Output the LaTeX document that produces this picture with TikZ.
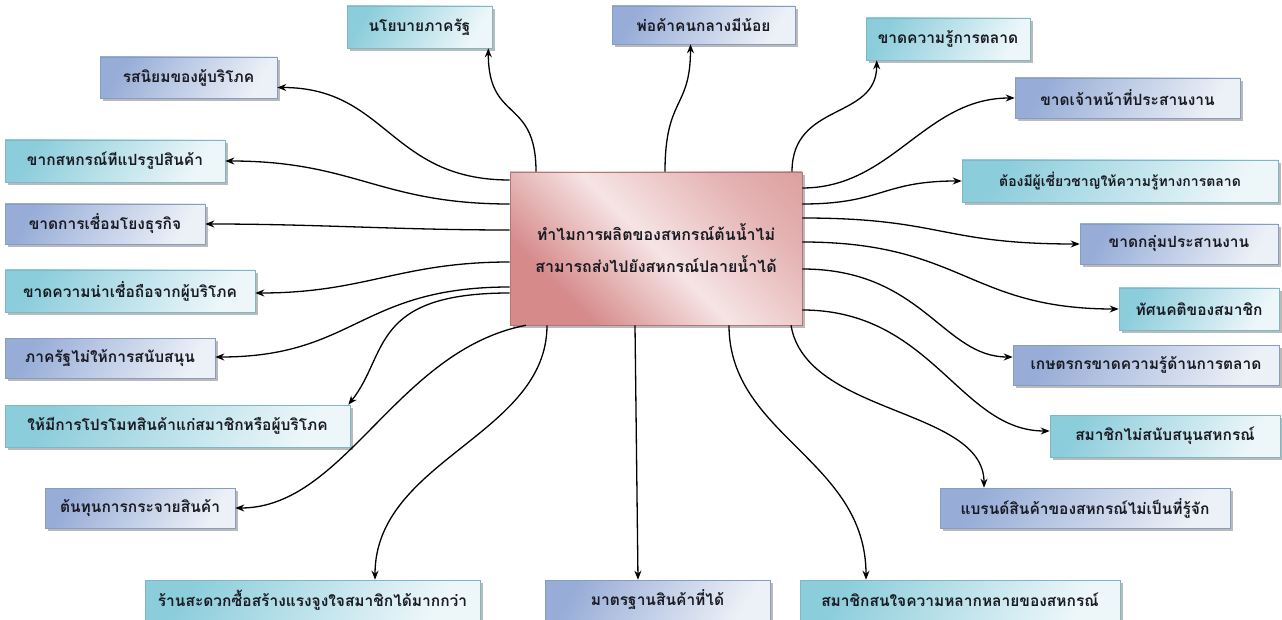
\documentclass[tikz,border=0pt]{standalone}
\usepackage{fontspec}
\newfontfamily\thai[Script=Thai]{Loma}
\usetikzlibrary{arrows.meta,shadows,calc}
\definecolor{cyD}{HTML}{8CCDDB}
\definecolor{cyL}{HTML}{EDF7FA}
\definecolor{blD}{HTML}{97ADD7}
\definecolor{blL}{HTML}{ECF0F7}
\definecolor{pkD}{HTML}{D68A8A}
\definecolor{pkL}{HTML}{F6E4E4}
\definecolor{txt}{HTML}{1A1A22}
\pgfdeclarehorizontalshading{pinkband}{100bp}{color(0bp)=(pkD); color(28bp)=(pkD); color(50bp)=(pkL); color(72bp)=(pkD!55!pkL); color(100bp)=(pkD)}
\tikzset{
  x=1pt, y=-1pt,
  basebox/.style={inner sep=0pt, minimum height=40pt, text=txt,
    font=\thai\bfseries\fontsize{15.5}{17}\selectfont,
    drop shadow={shadow xshift=3pt, shadow yshift=-3pt, fill=black!45, opacity=0.6}},
  cybox/.style={basebox, draw=cyD!90!black, line width=0.6pt,
    top color=cyD, bottom color=cyL, shading angle=60},
  blbox/.style={basebox, draw=blD!90!black, line width=0.6pt,
    top color=blD, bottom color=blL, shading angle=60},
  mainbox/.style={inner sep=0pt, draw=pkD!85!black, line width=0.6pt,
    shading=pinkband, shading angle=45, text=txt, align=center,
    font=\thai\bfseries\fontsize{16}{32}\selectfont,
    drop shadow={shadow xshift=3pt, shadow yshift=-3pt, fill=black!45, opacity=0.6}},
  conn/.style={-{Stealth[length=9pt,width=7pt]}, line width=1.3pt, black}
}
\begin{document}
\begin{tikzpicture}
\useasboundingbox (0,0) rectangle (1282,620);
% centre
\node[mainbox, minimum width=292pt, minimum height=153pt] (c) at (656,248.5)
  {ทำไมการผลิตของสหกรณ์ต้นน้ำไม่\\สามารถส่งไปยังสหกรณ์ปลายน้ำได้};
% top
\node[cybox, minimum width=145pt, minimum height=42pt] (nyb) at (419.5,27) {นโยบายภาครัฐ};
\node[blbox, minimum width=183pt, minimum height=38pt] (pkk) at (703.5,25) {พ่อค้าคนกลางมีน้อย};
\node[cybox, minimum width=164pt, minimum height=42pt] (kkr) at (948,39) {ขาดความรู้การตลาด};
% left
\node[blbox, minimum width=177pt, minimum height=41pt] (rsn) at (188.5,77.5) {รสนิยมของผู้บริโภค};
\node[cybox, minimum width=220pt, minimum height=42pt] (kpr) at (115,161) {ขากสหกรณ์ทีแปรรูปสินค้า};
\node[blbox, minimum width=200pt] (kcm) at (105,224) {ขาดการเชื่อมโยงธุรกิจ};
\node[cybox, minimum width=250pt, minimum height=42pt] (kna) at (130,291) {ขาดความน่าเชื่อถือจากผู้บริโภค};
\node[blbox, minimum width=210pt] (prn) at (110,358) {ภาครัฐไม่ให้การสนับสนุน};
\node[cybox, minimum width=345pt, minimum height=42pt] (prm) at (177.5,426) {ให้มีการโปรโมทสินค้าแก่สมาชิกหรือผู้บริโภค};
\node[blbox, minimum width=190pt] (tnt) at (140,508) {ต้นทุนการกระจายสินค้า};
% right
\node[blbox, minimum width=225pt] (kjn) at (1127.5,98) {ขาดเจ้าหน้าที่ประสานงาน};
\node[cybox, minimum width=316pt, minimum height=42pt, font=\thai\bfseries\fontsize{14}{16}\selectfont] (tpc) at (1120,181) {ต้องมีผู้เชี่ยวชาญให้ความรู้ทางการตลาด};
\node[blbox, minimum width=198pt] (kkl) at (1179,244) {ขาดกลุ่มประสานงาน};
\node[cybox, minimum width=160pt, minimum height=42pt] (tsk) at (1199,309) {ทัศนคติของสมาชิก};
\node[blbox, minimum width=266pt] (ksk) at (1146,365) {เกษตรกรขาดความรู้ด้านการตลาด};
\node[cybox, minimum width=230pt, minimum height=42pt] (smn) at (1165,436) {สมาชิกไม่สนับสนุนสหกรณ์};
\node[blbox, minimum width=290pt] (brn) at (1085,508) {แบรนด์สินค้าของสหกรณ์ไม่เป็นที่รู้จัก};
% bottom
\node[cybox, minimum width=335pt] (rsd) at (312.5,600) {ร้านสะดวกซื้อสร้างแรงจูงใจสมาชิกได้มากกว่า};
\node[blbox, minimum width=225pt] (mtr) at (657.5,600) {มาตรฐานสินค้าที่ได้};
\node[cybox, minimum width=320pt] (sms) at (960,600) {สมาชิกสนใจความหลากหลายของสหกรณ์};

% connectors: top
\draw[conn] (c.north -| 536,0) .. controls +(0,-75) and +(0,75) .. ([xshift=-4pt]nyb.south east);
\draw[conn] (c.north -| 665,0) .. controls +(0,-75) and +(0,65) .. ([xshift=-13pt]pkk.south);
\draw[conn] (c.north -| 792,0) .. controls +(0,-70) and +(0,60) .. ([xshift=11pt]kkr.south west);
% left
\draw[conn] (c.west |- 0,180) .. controls +(-120,0) and +(110,0) .. ([yshift=-10pt]rsn.east);
\draw[conn] (c.west |- 0,204) .. controls +(-130,0) and +(130,0) .. (kpr.east);
\draw[conn] (c.west |- 0,230) .. controls +(-110,0) and +(110,0) .. (kcm.east);
\draw[conn] (c.west |- 0,262) .. controls +(-110,0) and +(110,0) .. ([yshift=-2pt]kna.east);
\draw[conn] (c.west |- 0,287) .. controls +(-150,0) and +(140,0) .. ([yshift=1pt]prn.east);
\draw[conn] (c.west |- 0,293) .. controls +(-140,0) and +(40,-50) .. ([xshift=-2pt]prm.north east);
\draw[conn] (c.south west -| 526,0) .. controls +(-130,25) and +(110,0) .. (tnt.east);
% bottom
\draw[conn] (c.south -| 547,0) .. controls +(0,110) and +(0,-120) .. (rsd.north -| 375,0);
\draw[conn] (c.south -| 635,0) -- (mtr.north -| 638,0);
\draw[conn] (c.south -| 729,0) .. controls +(0,110) and +(0,-120) .. (sms.north -| 866,0);
\draw[conn] (c.south -| 791,0) .. controls +(15,90) and +(0,-80) .. (brn.north -| 984,0);
% right
\draw[conn] (c.east |- 0,188) .. controls +(90,0) and +(-90,0) .. (kjn.west);
\draw[conn] (c.east |- 0,204) .. controls +(80,0) and +(-80,0) .. (tpc.west);
\draw[conn] (c.east |- 0,218) .. controls +(140,0) and +(-140,0) .. (kkl.west);
\draw[conn] (c.east |- 0,242) .. controls +(160,0) and +(-150,0) .. (tsk.west);
\draw[conn] (c.east |- 0,269) .. controls +(120,0) and +(-70,0) .. ([yshift=8pt]ksk.west);
\draw[conn] (c.east |- 0,310) .. controls +(130,0) and +(-90,0) .. ([yshift=5pt]smn.west);
\end{tikzpicture}
\end{document}
